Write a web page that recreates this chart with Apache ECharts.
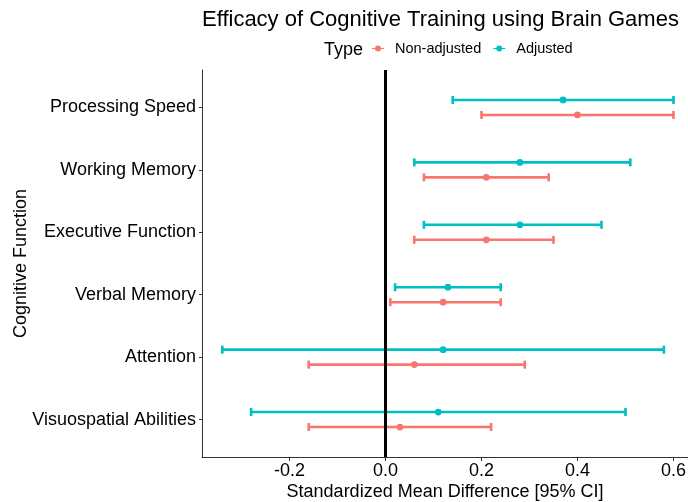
<!DOCTYPE html>
<html>
<head>
<meta charset="utf-8">
<script src="https://cdn.jsdelivr.net/npm/echarts@6/dist/echarts.min.js"></script>
<style>html,body{margin:0;padding:0;background:#fff;}#c{width:688px;height:502px;}</style>
</head>
<body>
<div id="c"></div>
<script>
// Categories, top to bottom
const categories = ['Processing Speed','Working Memory','Executive Function','Verbal Memory','Attention','Visuospatial Abilities'];
// Non-adjusted estimates
const nonAdjMean  = [0.40, 0.21, 0.21, 0.12, 0.06, 0.03];
const nonAdjLower = [0.20, 0.08, 0.06, 0.01, -0.16, -0.16];
const nonAdjUpper = [0.60, 0.34, 0.35, 0.24, 0.29, 0.22];
// Adjusted estimates
const adjMean  = [0.37, 0.28, 0.28, 0.13, 0.12, 0.11];
const adjLower = [0.14, 0.06, 0.08, 0.02, -0.34, -0.28];
const adjUpper = [0.60, 0.51, 0.45, 0.24, 0.58, 0.50];
// X tick labels
const xTicks = [-0.2, 0.0, 0.2, 0.4, 0.6];
const seriesNames = ['Non-adjusted', 'Adjusted'];

const FONT = '"Liberation Sans", Arial, sans-serif';
const colors = ['#F8766D', '#00BFC4'];
const dodge = [0.12, -0.12];

function makeRender(k) {
  return function (params, api) {
    const yi = api.value(0) + dodge[k];
    const lo = api.coord([api.value(1), yi]);
    const mid = api.coord([api.value(2), yi]);
    const hi = api.coord([api.value(3), yi]);
    const cap = 4;
    const st = { stroke: colors[k], lineWidth: 2.6 };
    return {
      type: 'group',
      children: [
        { type: 'line', shape: { x1: lo[0], y1: lo[1], x2: hi[0], y2: hi[1] }, style: st },
        { type: 'line', shape: { x1: lo[0], y1: lo[1] - cap, x2: lo[0], y2: lo[1] + cap }, style: st },
        { type: 'line', shape: { x1: hi[0], y1: hi[1] - cap, x2: hi[0], y2: hi[1] + cap }, style: st },
        { type: 'circle', shape: { cx: mid[0], cy: mid[1], r: 3.4 }, style: { fill: colors[k] } }
      ]
    };
  };
}

const legendIcon = 'path://M0,4.2 L20,4.2 L20,5.8 L0,5.8 Z M5,5 a5,5 0 1,1 10,0 a5,5 0 1,1 -10,0 Z';

const option = {
  animation: false,
  backgroundColor: '#fff',
  textStyle: { fontFamily: FONT },
  graphic: [
    { type: 'text', left: 442 - 240, top: 9, style: { text: 'Efficacy of Cognitive Training using Brain Games', font: '22px ' + FONT, fill: '#000', width: 480, align: 'center' } },
    { type: 'text', left: 324, top: 41, style: { text: 'Type', font: '18px ' + FONT, fill: '#000' } }
  ],
  legend: {
    data: seriesNames,
    left: 367, top: 36,
    icon: legendIcon,
    itemWidth: 12, itemHeight: 8, itemGap: 12,
    textStyle: { fontSize: 14.5, color: '#000', fontFamily: FONT, padding: [0, 0, 0, 6] }
  },
  grid: { left: 202, right: 0, top: 70, bottom: 45, outerBoundsMode: 'none', containLabel: false },
  xAxis: {
    type: 'value', min: -0.3823, max: 0.6302,
    name: 'Standardized Mean Difference [95% CI]',
    nameLocation: 'middle', nameGap: 26, nameMoveOverlap: false,
    nameTextStyle: { fontSize: 18, color: '#000', fontFamily: FONT },
    splitLine: { show: false },
    axisLine: { show: true, onZero: false, lineStyle: { color: '#333', width: 1 } },
    axisTick: { show: true, length: 4, lineStyle: { color: '#333' }, customValues: xTicks },
    axisLabel: { fontSize: 18, color: '#000', margin: 5, customValues: xTicks, formatter: v => v.toFixed(1) }
  },
  yAxis: {
    type: 'value', inverse: true, min: -0.6, max: 5.6,
    name: 'Cognitive Function',
    nameLocation: 'middle', nameGap: 172, nameRotate: 90, nameMoveOverlap: false,
    nameTextStyle: { fontSize: 18, color: '#000', fontFamily: FONT },
    splitLine: { show: false },
    axisLine: { show: true, onZero: false, lineStyle: { color: '#333', width: 1 } },
    axisTick: { show: true, length: 3, lineStyle: { color: '#333' }, customValues: [0,1,2,3,4,5] },
    axisLabel: { fontSize: 18, color: '#000', margin: 6, customValues: [0,1,2,3,4,5], formatter: v => categories[Math.round(v)] }
  },
  series: [
    {
      name: seriesNames[0], type: 'custom', renderItem: makeRender(0),
      itemStyle: { color: colors[0] },
      encode: { x: [1, 2, 3], y: 0 },
      data: categories.map((c, i) => [i, nonAdjLower[i], nonAdjMean[i], nonAdjUpper[i]])
    },
    {
      name: seriesNames[1], type: 'custom', renderItem: makeRender(1),
      itemStyle: { color: colors[1] },
      encode: { x: [1, 2, 3], y: 0 },
      data: categories.map((c, i) => [i, adjLower[i], adjMean[i], adjUpper[i]]),
      markLine: {
        silent: true, symbol: 'none', label: { show: false },
        lineStyle: { color: '#000', width: 3, type: 'solid' },
        data: [{ xAxis: 0 }]
      }
    }
  ]
};

const chart = echarts.init(document.getElementById('c'), null, { renderer: 'canvas' });
chart.setOption(option);
</script>
</body>
</html>
